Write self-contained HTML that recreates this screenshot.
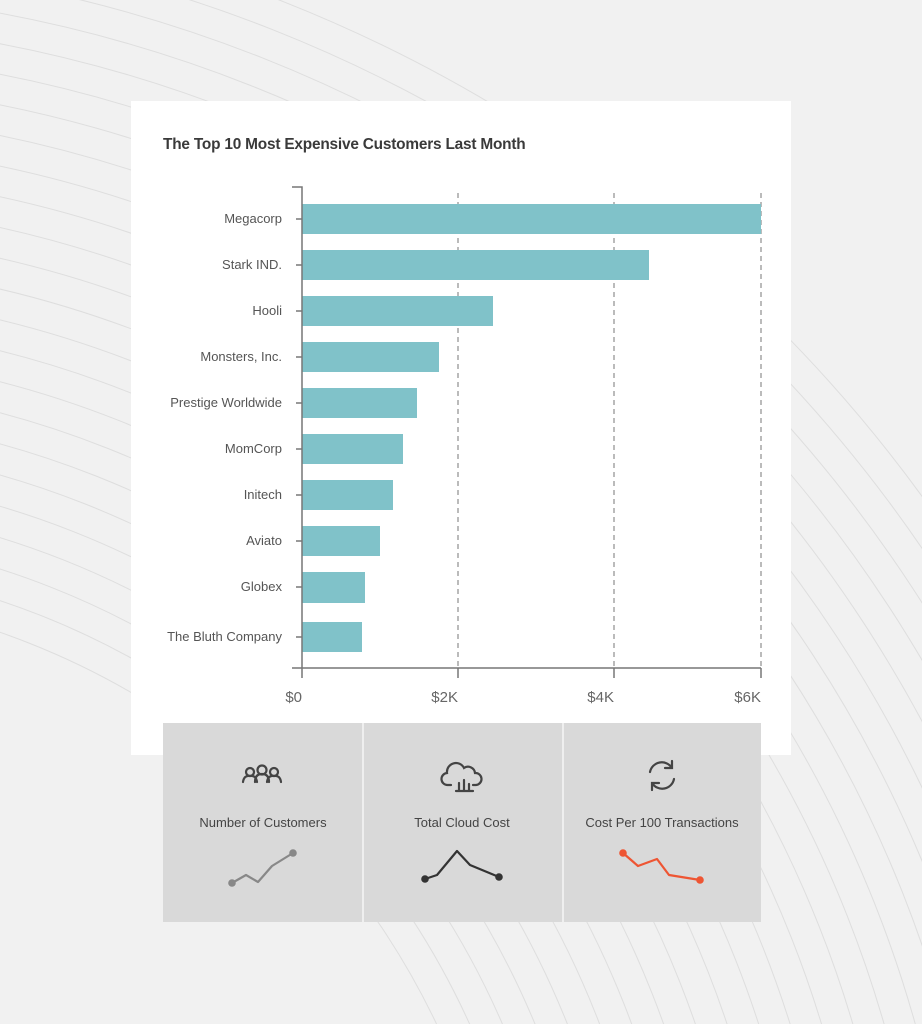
<!DOCTYPE html>
<html><head><meta charset="utf-8"><style>
html,body{margin:0;padding:0;background:#f1f1f1;width:922px;height:1024px;overflow:hidden;}
svg{display:block;}
text{font-family:"Liberation Sans",sans-serif;}
</style></head><body>
<svg width="922" height="1024" viewBox="0 0 922 1024" xmlns="http://www.w3.org/2000/svg">
<rect width="922" height="1024" fill="#f1f1f1"/>
<g fill="none" stroke="#dedede" stroke-width="1">
<circle cx="-250" cy="1350" r="760"/><circle cx="-250" cy="1350" r="790"/><circle cx="-250" cy="1350" r="820"/>
<circle cx="-250" cy="1350" r="850"/><circle cx="-250" cy="1350" r="880"/><circle cx="-250" cy="1350" r="910"/>
<circle cx="-250" cy="1350" r="940"/><circle cx="-250" cy="1350" r="970"/><circle cx="-250" cy="1350" r="1000"/>
<circle cx="-250" cy="1350" r="1030"/><circle cx="-250" cy="1350" r="1060"/><circle cx="-250" cy="1350" r="1090"/>
<circle cx="-250" cy="1350" r="1120"/><circle cx="-250" cy="1350" r="1150"/><circle cx="-250" cy="1350" r="1180"/>
<circle cx="-250" cy="1350" r="1210"/><circle cx="-250" cy="1350" r="1240"/><circle cx="-250" cy="1350" r="1270"/>
<circle cx="-250" cy="1350" r="1300"/><circle cx="-250" cy="1350" r="1330"/><circle cx="-250" cy="1350" r="1360"/>
<circle cx="-250" cy="1350" r="1390"/><circle cx="-250" cy="1350" r="1420"/><circle cx="-250" cy="1350" r="1450"/>
</g>
<rect x="131" y="101" width="660" height="654" fill="#ffffff"/>
<text x="163" y="149" font-size="15.4" font-weight="bold" fill="#3a3a3a" letter-spacing="-0.2">The Top 10 Most Expensive Customers Last Month</text>
<g stroke="#777" stroke-width="1" stroke-dasharray="5,4">
<line x1="458" y1="193" x2="458" y2="668"/><line x1="614" y1="193" x2="614" y2="668"/><line x1="761" y1="193" x2="761" y2="668"/>
</g>
<g fill="#80c2c9">
<rect x="302" y="204" width="459" height="30"/>
<rect x="302" y="250" width="347" height="30"/>
<rect x="302" y="296" width="191" height="30"/>
<rect x="302" y="342" width="137" height="30"/>
<rect x="302" y="388" width="115" height="30"/>
<rect x="302" y="434" width="101" height="30"/>
<rect x="302" y="480" width="91" height="30"/>
<rect x="302" y="526" width="78" height="30"/>
<rect x="302" y="572" width="63" height="31"/>
<rect x="302" y="622" width="60" height="30"/>
</g>
<g stroke="#777" stroke-width="1.5" fill="none">
<polyline points="292,187 302,187 302,678"/>
<line x1="292" y1="668" x2="761" y2="668"/>
<line x1="458" y1="668" x2="458" y2="678"/><line x1="614" y1="668" x2="614" y2="678"/><line x1="761" y1="668" x2="761" y2="678"/>
<line x1="296" y1="219" x2="302" y2="219"/><line x1="296" y1="265" x2="302" y2="265"/><line x1="296" y1="311" x2="302" y2="311"/>
<line x1="296" y1="357" x2="302" y2="357"/><line x1="296" y1="403" x2="302" y2="403"/><line x1="296" y1="449" x2="302" y2="449"/>
<line x1="296" y1="495" x2="302" y2="495"/><line x1="296" y1="541" x2="302" y2="541"/><line x1="296" y1="587" x2="302" y2="587"/>
<line x1="296" y1="637" x2="302" y2="637"/>
</g>
<g font-size="13" fill="#555" text-anchor="end">
<text x="282" y="223">Megacorp</text>
<text x="282" y="269">Stark IND.</text>
<text x="282" y="315">Hooli</text>
<text x="282" y="361">Monsters, Inc.</text>
<text x="282" y="407">Prestige Worldwide</text>
<text x="282" y="453">MomCorp</text>
<text x="282" y="499">Initech</text>
<text x="282" y="545">Aviato</text>
<text x="282" y="591">Globex</text>
<text x="282" y="641">The Bluth Company</text>
</g>
<g font-size="15" fill="#666" text-anchor="end">
<text x="302" y="702">$0</text><text x="458" y="702">$2K</text><text x="614" y="702">$4K</text><text x="761" y="702">$6K</text>
</g>
<rect x="163" y="723" width="598" height="199" fill="#d9d9d9"/>
<line x1="363" y1="723" x2="363" y2="922" stroke="#efefef" stroke-width="2"/>
<line x1="563" y1="723" x2="563" y2="922" stroke="#efefef" stroke-width="2"/>
<g font-size="13" fill="#444" text-anchor="middle">
<text x="263" y="827">Number of Customers</text>
<text x="462" y="827">Total Cloud Cost</text>
<text x="662" y="827">Cost Per 100 Transactions</text>
</g>
<g fill="none" stroke="#444" stroke-width="2.2" stroke-linecap="round">
<circle cx="250" cy="772" r="4"/><path d="M243,782 q1,-7 7,-6 q6,-1 7,6"/>
<circle cx="262" cy="770" r="4.5"/><path d="M255,782 q0,-8 7,-8 q7,0 7,8"/>
<circle cx="274" cy="772" r="4"/><path d="M267,782 q1,-7 7,-6 q6,-1 7,6"/>
<path d="M451,785 h-3 a6,6 0 0 1 -1,-12 a9,9 0 0 1 17,-5 a7,7 0 0 1 11,5 a6,6 0 0 1 1,12 h-3"/>
<path d="M456,791 h17 M459,790 v-7 M464,790 v-10 M469,790 v-6"/>
<path d="M650,772 a12,12 0 0 1 22,-4 M672,761 v7 h-7"/>
<path d="M674,779 a12,12 0 0 1 -22,4 M652,790 v-7 h7"/>
</g>
<g fill="none" stroke-width="2.2" stroke-linejoin="round">
<polyline points="232,883 246,875 258,882 272,866 293,853" stroke="#888"/>
<polyline points="425,879 437,875 457,851 470,865 499,877" stroke="#333"/>
<polyline points="623,853 638,866 657,859 669,875 700,880" stroke="#ee5533"/>
</g>
<circle cx="232" cy="883" r="3.8" fill="#888"/><circle cx="293" cy="853" r="3.8" fill="#888"/>
<circle cx="425" cy="879" r="3.8" fill="#333"/><circle cx="499" cy="877" r="3.8" fill="#333"/>
<circle cx="623" cy="853" r="3.8" fill="#ee5533"/><circle cx="700" cy="880" r="3.8" fill="#ee5533"/>
</svg>
</body></html>
